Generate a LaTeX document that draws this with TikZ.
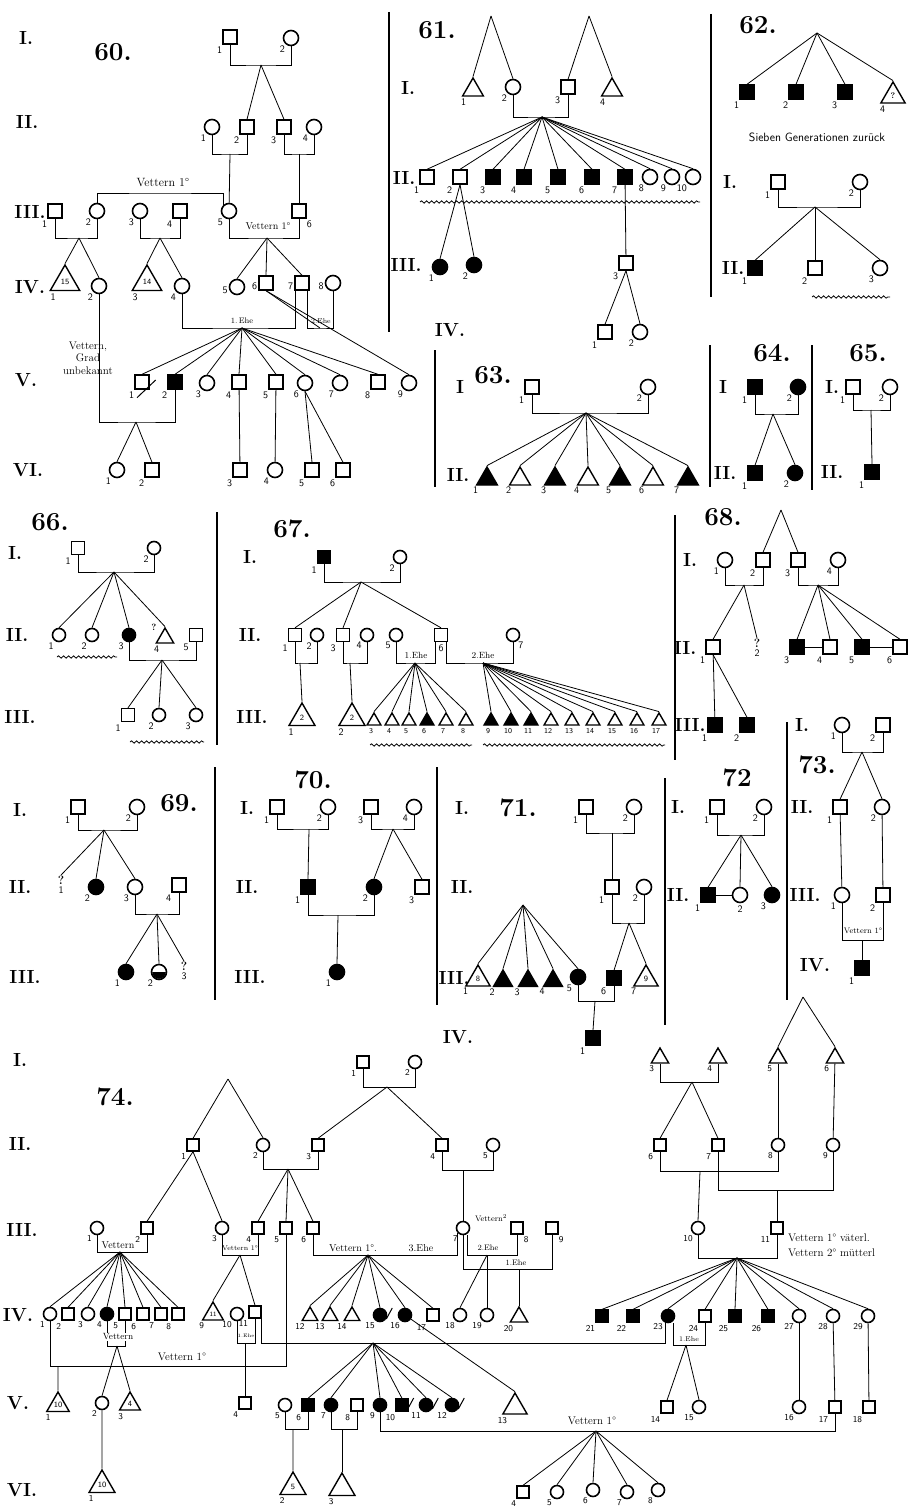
\documentclass[tikz,border=0pt]{standalone}
\usetikzlibrary{shapes.geometric,decorations.pathmorphing}
\begin{document}
\begin{tikzpicture}[x=1pt,y=-1pt,
 sym/.style={draw,inner sep=0pt,line width=1.4pt},
 sq/.style={sym,rectangle,minimum size=14pt},
 sqf/.style={sq,fill=black},
 ci/.style={sym,circle,minimum size=15pt,line width=1.6pt},
 cif/.style={ci,fill=black},
 tri/.style={sym,regular polygon,regular polygon sides=3,minimum size=#1,font=\sffamily\fontsize{6.5}{6.5}\selectfont},
 tri/.default=22pt,
 trif/.style={tri=#1,fill=black},
 trif/.default=22pt,
 big/.style={font=\sffamily\fontsize{8}{8}\selectfont},
 qm/.style={font=\bfseries\fontsize{12}{12}\selectfont,inner sep=0.5pt},
 lab/.style={font=\sffamily\fontsize{10}{10}\selectfont,inner sep=0pt},
 labs/.style={font=\sffamily\fontsize{7.5}{7.5}\selectfont,inner sep=0pt},
 nl/.style={label={[lab,anchor=north east,yshift=-2pt]south west:#1}},
 nlr/.style={label={[lab,anchor=north west,yshift=-2pt]south east:#1}},
 nlb/.style={label={[lab,anchor=north,yshift=-2pt]south:#1}},
 nll/.style={label={[lab,anchor=east,xshift=-1pt,yshift=-3pt]west:#1}},
 nt/.style={label={[lab,anchor=north east,xshift=-2pt,yshift=-1pt]south west:#1}},
 ns/.style={label={[labs,anchor=north,xshift=-3pt,yshift=-3pt]south:#1}},
 gen/.style={font=\bfseries\fontsize{19}{19}\selectfont,inner sep=0pt},
 fign/.style={font=\bfseries\fontsize{26}{26}\selectfont,inner sep=0pt},
 txt/.style={font=\fontsize{11}{12.5}\selectfont,inner sep=0pt},
 stxt/.style={font=\fontsize{8}{8}\selectfont,inner sep=0pt},
 ln/.style={line width=0.8pt},
 sepl/.style={line width=1.5pt},
 wav/.style={line width=0.8pt,decorate,decoration={snake,amplitude=1.2pt,segment length=5pt}},
 sl/.style={line width=1pt},
]
\path[use as bounding box] (0,0) rectangle (915,1511);
\fill[white] (0,0) rectangle (915,1511);

% ---------------- separators
\coordinate (s1a) at (389,12);  \coordinate (s1b) at (389,332);
\coordinate (s2a) at (711,14);  \coordinate (s2b) at (711,297);
\coordinate (s3a) at (435,350); \coordinate (s3b) at (435,487);
\coordinate (s4a) at (710,345); \coordinate (s4b) at (710,487);
\coordinate (s5a) at (812,345); \coordinate (s5b) at (812,490);
\coordinate (s6a) at (217,512); \coordinate (s6b) at (217,745);
\coordinate (s7a) at (675,515); \coordinate (s7b) at (675,760);
\coordinate (s8a) at (215,767); \coordinate (s8b) at (215,1000);
\coordinate (s9a) at (437,767); \coordinate (s9b) at (437,1005);
\coordinate (s10a) at (665,778); \coordinate (s10b) at (665,1025);
\coordinate (s11a) at (787,722); \coordinate (s11b) at (787,1000);
\foreach \s in {1,...,11}{\draw[sepl] (s\s a) -- (s\s b);}

% ================= 60
\node[gen] (g60a) at (26,38) {I.};
\node[gen] (g60b) at (27,122) {II.};
\node[gen] (g60c) at (30,212) {III.};
\node[gen] (g60d) at (30,287) {IV.};
\node[gen] (g60e) at (26,380) {V.};
\node[gen] (g60f) at (28,470) {VI.};
\node[fign] (n60) at (113,52) {60.};
\node[sq,nl=1] (f60a1) at (230,37) {};
\node[ci,nl=2] (f60a2) at (291,38) {};
\node[ci,nl=1] (f60b1) at (212,127) {};
\node[sq,nl=2] (f60b2) at (247,127) {};
\node[sq,nl=3] (f60b3) at (284,127) {};
\node[ci,nl=4] (f60b4) at (314,127) {};
\node[sq,nl=1] (f60c1) at (55,211) {};
\node[ci,nl=2] (f60c2) at (97,211) {};
\node[ci,nl=3] (f60c3) at (140,211) {};
\node[sq,nl=4] (f60c4) at (180,211) {};
\node[ci,nl=5] (f60c5) at (229,211) {};
\node[sq,nlr=6] (f60c6) at (299,211) {};
\node[tri=34pt,nl=1,big] (f60d1) at (65,282) {15};
\node[ci,nl=2] (f60d2) at (99,286) {};
\node[tri=34pt,nl=3,big] (f60d3) at (147,282) {14};
\node[ci,nl=4] (f60d4) at (182,286) {};
\node[ci,nll=5] (f60d5) at (237,287) {};
\node[sq,nll=6] (f60d6) at (266,283) {};
\node[sq,nll=7] (f60d7) at (302,283) {};
\node[ci,nll=8] (f60d8) at (333,283) {};
\node[sq,nl=1] (f60e1) at (142,382) {};
\node[sqf,nl=2] (f60e2) at (175,382) {};
\node[ci,nl=3] (f60e3) at (207,383) {};
\node[sq,nl=4] (f60e4) at (239,382) {};
\node[sq,nl=5] (f60e5) at (276,382) {};
\node[ci,nl=6] (f60e6) at (305,383) {};
\node[ci,nl=7] (f60e7) at (340,383) {};
\node[sq,nl=8] (f60e8) at (378,382) {};
\node[ci,nl=9] (f60e9) at (409,383) {};
\node[ci,nl=1] (f60f1) at (117,470) {};
\node[sq,nl=2] (f60f2) at (152,470) {};
\node[sq,nl=3] (f60f3) at (240,470) {};
\node[ci,nl=4] (f60f4) at (275,470) {};
\node[sq,nl=5] (f60f5) at (312,470) {};
\node[sq,nl=6] (f60f6) at (343,470) {};
\node[txt,font=\fontsize{12}{12}\selectfont] (t60a) at (163,183) {Vettern 1°};
\node[stxt,font=\fontsize{10}{10}\selectfont] (t60b) at (268,226) {Vettern 1°};
\node[stxt] (t60c) at (242,321) {1.\,Ehe};
\node[stxt,font=\fontsize{7}{7}\selectfont] (t60d) at (321,321) {2.Ehe};
\node[txt,align=center] (t60e) at (88,358) {Vettern,\\Grad\\unbekannt};
\coordinate (j60a) at (261,65);
\draw[ln] (f60a1) |- (j60a) -| (f60a2);
\draw[ln] (j60a) -- (f60b2.north); \draw[ln] (j60a) -- (f60b3.north);
\coordinate (j60b) at (230,154);
\draw[ln] (f60b1) |- (j60b) -| (f60b2); \draw[ln] (j60b) -- (f60c5);
\coordinate (j60c) at (299,154);
\draw[ln] (f60b3) |- (j60c) -| (f60b4); \draw[ln] (j60c) -- (f60c6);
\coordinate (v60) at (160,193);
\draw[ln] (f60c2) |- (v60) -| (f60c5.north west);
\coordinate (j60d) at (79,238);
\draw[ln] (f60c1) |- (j60d) -| (f60c2); \draw[ln] (j60d) -- (f60d1.north); \draw[ln] (j60d) -- (f60d2.north);
\coordinate (j60e) at (160,238);
\draw[ln] (f60c3) |- (j60e) -| (f60c4); \draw[ln] (j60e) -- (f60d3.north); \draw[ln] (j60e) -- (f60d4.north);
\coordinate (j60f) at (267,238);
\draw[ln] (f60c5) |- (j60f) -| (f60c6); \draw[ln] (j60f) -- (f60d5.north); \draw[ln] (j60f) -- (f60d6.north); \draw[ln] (j60f) -- (f60d7.north);
\coordinate (e60a) at (242,328);
\draw[ln] (f60d4) |- (e60a) -| ([xshift=1pt]f60d7.south west);
\coordinate (e60b) at (320,328);
\draw[ln] ([xshift=-2pt]f60d7.south east) |- (e60b) -| (f60d8);
\foreach \i in {1,...,8}{\draw[ln] (e60a) -- (f60e\i.north);}
\draw[ln] (f60d6.south) -- (f60e9.north);
\draw[ln] (f60d6.south) -- (e60b);
\coordinate (j60g) at (136,422);
\draw[ln] (f60d2) |- (j60g) -| (f60e2); \draw[ln] (j60g) -- (f60f1.north); \draw[ln] (j60g) -- (f60f2.north);
\draw[ln] (f60e4) -- (f60f3); \draw[ln] (f60e5) -- (f60f4);
\draw[ln] (f60e6.south) -- (f60f5.north); \draw[ln] (f60e6.south) -- (f60f6.north);
\draw[sl] ([shift={(-5,8)}]f60e1.south) -- ([shift={(6,-2)}]f60e1.east);

% ================= 61
\node[gen] (g61a) at (408,88) {I.};
\node[gen] (g61b) at (404,178) {II.};
\node[gen] (g61c) at (406,265) {III.};
\node[gen] (g61d) at (450,330) {IV.};
\node[fign] (n61) at (437,30) {61.};
\node[tri=24pt,nl=1] (f61a1) at (473,90) {};
\node[ci,nl=2] (f61a2) at (513,87) {};
\node[sq,nl=3] (f61a3) at (568,87) {};
\node[tri=24pt,nl=4] (f61a4) at (612,90) {};
\node[sq,nl=1] (f61b1) at (427,177) {};
\node[sq,nl=2] (f61b2) at (460,177) {};
\node[sqf,nl=3] (f61b3) at (493,177) {};
\node[sqf,nl=4] (f61b4) at (524,177) {};
\node[sqf,nl=5] (f61b5) at (558,177) {};
\node[sqf,nl=6] (f61b6) at (592,177) {};
\node[sqf,nl=7] (f61b7) at (625,177) {};
\node[ci,nl=8] (f61b8) at (650,177) {};
\node[ci,nl=9] (f61b9) at (672,177) {};
\node[ci,nl=10] (f61b10) at (693,177) {};
\node[cif,nl=1] (f61c1) at (440,267) {};
\node[cif,nl=2] (f61c2) at (474,265) {};
\node[sq,nl=3] (f61c3) at (626,263) {};
\node[sq,nl=1] (f61d1) at (605,332) {};
\node[ci,nl=2] (f61d2) at (640,332) {};
\coordinate (p61a) at (491,16); \coordinate (p61b) at (589,16);
\draw[ln] (p61a) -- (f61a1.north); \draw[ln] (p61a) -- (f61a2.north);
\draw[ln] (p61b) -- (f61a3.north); \draw[ln] (p61b) -- (f61a4.north);
\coordinate (j61a) at (542,117);
\draw[ln] (f61a2) |- (j61a) -| (f61a3);
\foreach \i in {1,...,10}{\draw[ln] (j61a) -- (f61b\i.north);}
\coordinate (w61a) at (420,202); \coordinate (w61b) at (700,202);
\draw[wav] (w61a) -- (w61b);
\draw[ln] (f61b2.south) -- (f61c1.north); \draw[ln] (f61b2.south) -- (f61c2.north);
\draw[ln] (f61b7) -- (f61c3);
\draw[ln] (f61c3.south) -- (f61d1.north); \draw[ln] (f61c3.south) -- (f61d2.north);

% ================= 62
\node[fign] (n62) at (758,25) {62.};
\node[sqf,nl=1] (f62x1) at (747,92) {};
\node[sqf,nl=2] (f62x2) at (796,92) {};
\node[sqf,nl=3] (f62x3) at (845,92) {};
\node[tri=28pt,nl=4,font=\bfseries\fontsize{8}{8}\selectfont] (f62x4) at (893,96) {?};
\node[stxt,font=\sffamily\fontsize{12}{12}\selectfont] (t62) at (817,137) {Sieben Generationen zurück};
\node[gen] (g62a) at (730,182) {I.};
\node[gen] (g62b) at (733,268) {II.};
\node[sq,nl=1] (f62a1) at (778,182) {};
\node[ci,nl=2] (f62a2) at (860,182) {};
\node[sqf,nl=1] (f62b1) at (755,268) {};
\node[sq,nl=2] (f62b2) at (815,268) {};
\node[ci,nl=3] (f62b3) at (880,268) {};
\coordinate (p62) at (817,33);
\foreach \i in {1,...,4}{\draw[ln] (p62) -- (f62x\i.north);}
\coordinate (j62) at (815,207);
\draw[ln] (f62a1) |- (j62) -| (f62a2);
\foreach \i in {1,2,3}{\draw[ln] (j62) -- (f62b\i.north);}
\coordinate (w62a) at (812,297); \coordinate (w62b) at (890,297);
\draw[wav] (w62a) -- (w62b);

% ================= 63
\node[fign] (n63) at (493,375) {63.};
\node[gen] (g63a) at (460,387) {I};
\node[gen] (g63b) at (458,475) {II.};
\node[sq,nl=1] (f63a1) at (532,387) {};
\node[ci,nl=2] (f63a2) at (648,387) {};
\node[trif=24pt,nt=1] (f63b1) at (487,479) {};
\node[tri=24pt,nt=2] (f63b2) at (520,479) {};
\node[trif=24pt,nt=3] (f63b3) at (555,479) {};
\node[tri=24pt,nt=4] (f63b4) at (588,479) {};
\node[trif=24pt,nt=5] (f63b5) at (620,479) {};
\node[tri=24pt,nt=6] (f63b6) at (653,479) {};
\node[trif=24pt,nt=7] (f63b7) at (688,479) {};
\coordinate (j63) at (586,413);
\draw[ln] (f63a1) |- (j63) -| (f63a2);
\foreach \i in {1,...,7}{\draw[ln] (j63) -- (f63b\i.north);}

% ================= 64
\node[fign] (n64) at (772,353) {64.};
\node[gen] (g64a) at (723,387) {I};
\node[gen] (g64b) at (725,473) {II.};
\node[sqf,nl=1] (f64a1) at (755,387) {};
\node[cif,nl=2] (f64a2) at (798,387) {};
\node[sqf,nl=1] (f64b1) at (755,473) {};
\node[cif,nl=2] (f64b2) at (795,473) {};
\coordinate (j64) at (773,414);
\draw[ln] (f64a1) |- (j64) -| (f64a2);
\draw[ln] (j64) -- (f64b1.north); \draw[ln] (j64) -- (f64b2.north);

% ================= 65
\node[fign] (n65) at (868,353) {65.};
\node[gen] (g65a) at (832,387) {I.};
\node[gen] (g65b) at (832,472) {II.};
\node[sq,nl=1] (f65a1) at (853,387) {};
\node[ci,nl=2] (f65a2) at (890,387) {};
\node[sqf,nl=1] (f65b1) at (872,472) {};
\coordinate (j65) at (871,410);
\draw[ln] (f65a1) |- (j65) -| (f65a2);
\draw[ln] (j65) -- (f65b1.north);

% ================= 66 & 67
\begin{scope}[sq/.append style={minimum size=13pt}, ci/.append style={minimum size=13pt}]
\node[fign] (n66) at (50,522) {66.};
\node[gen] (g66a) at (15,553) {I.};
\node[gen] (g66b) at (17,635) {II.};
\node[gen] (g66c) at (20,717) {III.};
\node[sq,nl=1] (f66a1) at (78,548) {};
\node[ci,nl=2] (f66a2) at (154,548) {};
\node[ci,nl=1] (f66b1) at (59,635) {};
\node[ci,nl=2] (f66b2) at (92,635) {};
\node[cif,nl=3] (f66b3) at (129,635) {};
\node[tri=20pt,nl=4] (f66b4) at (165,638) {};
\node[sq,nl=5] (f66b5) at (196,635) {};
\node[qm,font=\bfseries\fontsize{9}{9}\selectfont] (t66q) at (154,627) {?};
\node[sq,nl=1] (f66c1) at (128,715) {};
\node[ci,nl=2] (f66c2) at (159,715) {};
\node[ci,nl=3] (f66c3) at (196,715) {};
\coordinate (j66a) at (114,572);
\draw[ln] (f66a1) |- (j66a) -| (f66a2);
\foreach \i in {1,...,4}{\draw[ln] (j66a) -- (f66b\i.north);}
\coordinate (j66b) at (162,660);
\draw[ln] (f66b3) |- (j66b) -| (f66b5);
\foreach \i in {1,2,3}{\draw[ln] (j66b) -- (f66c\i.north);}
\coordinate (w66a) at (57,657); \coordinate (w66b) at (117,657);
\coordinate (w66c) at (130,742); \coordinate (w66d) at (204,742);
\draw[wav] (w66a) -- (w66b); \draw[wav] (w66c) -- (w66d);

\node[fign] (n67) at (292,529) {67.};
\node[gen] (g67a) at (250,557) {I.};
\node[gen] (g67b) at (250,635) {II.};
\node[gen] (g67c) at (252,717) {III.};
\node[sqf,nl=1] (f67a1) at (324,557) {};
\node[ci,nl=2] (f67a2) at (400,557) {};
\node[sq,nl=1] (f67b1) at (295,635) {};
\node[ci,nl=2] (f67b2) at (317,635) {};
\node[sq,nl=3] (f67b3) at (343,635) {};
\node[ci,nl=4] (f67b4) at (367,635) {};
\node[ci,nl=5] (f67b5) at (396,635) {};
\node[sq,nlb=6] (f67b6) at (441,635) {};
\node[ci,nlr=7] (f67b7) at (513,635) {};
\node[tri=30pt,nl=1,big] (f67c1) at (302,718) {2};
\node[tri=30pt,nl=2,big] (f67c2) at (352,718) {2};
\node[tri=16pt,ns=3] (f67c3) at (374,721) {};
\node[tri=16pt,ns=4] (f67c4) at (392,721) {};
\node[tri=16pt,ns=5] (f67c5) at (409,721) {};
\node[trif=16pt,ns=6] (f67c6) at (427,721) {};
\node[tri=16pt,ns=7] (f67c7) at (446,721) {};
\node[tri=16pt,ns=8] (f67c8) at (466,721) {};
\node[trif=16pt,ns=9] (f67c9) at (491,721) {};
\node[trif=16pt,ns=10] (f67c10) at (511,721) {};
\node[trif=16pt,ns=11] (f67c11) at (531,721) {};
\node[tri=16pt,ns=12] (f67c12) at (551,721) {};
\node[tri=16pt,ns=13] (f67c13) at (572,721) {};
\node[tri=16pt,ns=14] (f67c14) at (593,721) {};
\node[tri=16pt,ns=15] (f67c15) at (615,721) {};
\node[tri=16pt,ns=16] (f67c16) at (637,721) {};
\node[tri=16pt,ns=17] (f67c17) at (659,721) {};
\node[stxt,font=\fontsize{9}{9}\selectfont] (t67a) at (416,655) {1.Ehe};
\node[stxt,font=\fontsize{9}{9}\selectfont] (t67b) at (483,655) {2.Ehe};
\coordinate (j67a) at (361,582);
\draw[ln] (f67a1) |- (j67a) -| (f67a2);
\draw[ln] (j67a) -- (f67b1.north); \draw[ln] (j67a) -- (f67b3.north); \draw[ln] (j67a) -- (f67b6.north);
\coordinate (j67b) at (300,663);
\draw[ln] (f67b1) |- (j67b) -| (f67b2); \draw[ln] (j67b) -- (f67c1.north);
\coordinate (j67c) at (350,663);
\draw[ln] (f67b3) |- (j67c) -| (f67b4); \draw[ln] (j67c) -- (f67c2.north);
\coordinate (j67d) at (415,663);
\draw[ln] (f67b5) |- (j67d) -| ([xshift=1.5pt]f67b6.south west);
\foreach \i in {3,...,8}{\draw[ln] (j67d) -- (f67c\i.north);}
\coordinate (j67e) at (483,663);
\draw[ln] ([xshift=-1.5pt]f67b6.south east) |- (j67e) -| (f67b7);
\foreach \i in {9,...,17}{\draw[ln] (j67e) -- (f67c\i.north);}
\coordinate (w67a) at (370,745); \coordinate (w67b) at (472,745);
\coordinate (w67c) at (483,745); \coordinate (w67d) at (665,745);
\draw[wav] (w67a) -- (w67b); \draw[wav] (w67c) -- (w67d);
\end{scope}

% ================= 68
\node[fign] (n68) at (723,517) {68.};
\node[gen] (g68a) at (690,560) {I.};
\node[gen] (g68b) at (685,648) {II.};
\node[gen] (g68c) at (690,725) {III.};
\node[ci,nl=1] (f68a1) at (725,560) {};
\node[sq,nl=2] (f68a2) at (763,560) {};
\node[sq,nl=3] (f68a3) at (798,560) {};
\node[ci,nl=4] (f68a4) at (838,560) {};
\node[sq,nl=1] (f68b1) at (713,647) {};
\node[qm,nlb=2] (f68b2) at (757,643) {?};
\node[sqf,nl=3] (f68b3) at (797,647) {};
\node[sq,nl=4] (f68b4) at (830,647) {};
\node[sqf,nl=5] (f68b5) at (862,647) {};
\node[sq,nl=6] (f68b6) at (900,647) {};
\node[sqf,nl=1] (f68c1) at (715,725) {};
\node[sqf,nl=2] (f68c2) at (747,725) {};
\coordinate (p68) at (781,510);
\draw[ln] (p68) -- (f68a2.north); \draw[ln] (p68) -- (f68a3.north);
\coordinate (j68a) at (744,585);
\draw[ln] (f68a1) |- (j68a) -| (f68a2);
\draw[ln] (j68a) -- (f68b1.north); \draw[ln] (j68a) -- (f68b2.north);
\coordinate (j68b) at (818,585);
\draw[ln] (f68a3) |- (j68b) -| (f68a4);
\foreach \i in {3,...,6}{\draw[ln] (j68b) -- (f68b\i.north);}
\draw[ln] (f68b3) -- (f68b4); \draw[ln] (f68b5) -- (f68b6);
\draw[ln] (f68b1) -- (f68c1); \draw[ln] (f68b1.south) -- (f68c2.north);

% ================= 69
\node[fign] (n69) at (179,803) {69.};
\node[gen] (g69a) at (20,810) {I.};
\node[gen] (g69b) at (20,887) {II.};
\node[gen] (g69c) at (25,977) {III.};
\node[sq,nl=1] (f69a1) at (78,807) {};
\node[ci,nl=2] (f69a2) at (137,807) {};
\node[qm,nlb=1] (f69b1) at (61,880) {?};
\node[cif,nl=2] (f69b2) at (96,887) {};
\node[ci,nl=3] (f69b3) at (135,887) {};
\node[sq,nl=4] (f69b4) at (179,885) {};
\node[cif,nl=1] (f69c1) at (126,972) {};
\node[ci,nl=2] (f69c2) at (159,972) {};
\node[qm,nlb=3] (f69c3) at (184,966) {?};
\fill ([xshift=-6.8pt]f69c2.center) arc[start angle=180,end angle=0,radius=6.8] -- cycle;
\coordinate (j69a) at (104,830);
\draw[ln] (f69a1) |- (j69a) -| (f69a2);
\foreach \i in {1,2,3}{\draw[ln] (j69a) -- (f69b\i.north);}
\coordinate (j69b) at (157,914);
\draw[ln] (f69b3) |- (j69b) -| (f69b4);
\foreach \i in {1,2,3}{\draw[ln] (j69b) -- (f69c\i.north);}

% ================= 70
\node[fign] (n70) at (313,780) {70.};
\node[gen] (g70a) at (247,808) {I.};
\node[gen] (g70b) at (247,887) {II.};
\node[gen] (g70c) at (250,977) {III.};
\node[sq,nl=1] (f70a1) at (277,807) {};
\node[ci,nl=2] (f70a2) at (328,807) {};
\node[sq,nl=3] (f70a3) at (371,807) {};
\node[ci,nl=4] (f70a4) at (414,807) {};
\node[sqf,nl=1] (f70b1) at (308,887) {};
\node[cif,nl=2] (f70b2) at (374,887) {};
\node[sq,nl=3] (f70b3) at (422,887) {};
\node[cif,nl=1] (f70c1) at (337,972) {};
\coordinate (j70a) at (309,829);
\draw[ln] (f70a1) |- (j70a) -| (f70a2); \draw[ln] (j70a) -- (f70b1.north);
\coordinate (j70b) at (393,829);
\draw[ln] (f70a3) |- (j70b) -| (f70a4); \draw[ln] (j70b) -- (f70b2.north); \draw[ln] (j70b) -- (f70b3.north);
\coordinate (j70c) at (338,915);
\draw[ln] (f70b1) |- (j70c) -| (f70b2); \draw[ln] (j70c) -- (f70c1.north);

% ================= 71
\node[fign] (n71) at (518,808) {71.};
\node[gen] (g71a) at (462,808) {I.};
\node[gen] (g71b) at (462,887) {II.};
\node[gen] (g71c) at (454,978) {III.};
\node[gen] (g71d) at (458,1037) {IV.};
\node[sq,nl=1] (f71a1) at (586,807) {};
\node[ci,nl=2] (f71a2) at (634,807) {};
\node[sq,nl=1] (f71b1) at (612,887) {};
\node[ci,nl=2] (f71b2) at (644,887) {};
\node[tri=28pt,nt=1,big] (f71c1) at (478,979) {8};
\node[trif=22pt,nt=2] (f71c2) at (503,981) {};
\node[trif=22pt,nt=3] (f71c3) at (528,981) {};
\node[trif=22pt,nt=4] (f71c4) at (553,981) {};
\node[cif,nl=5] (f71c5) at (578,977) {};
\node[sqf,nl=6] (f71c6) at (614,978) {};
\node[tri=28pt,nt=7,big] (f71c7) at (646,979) {9};
\node[sqf,nl=1] (f71d1) at (593,1038) {};
\coordinate (j71a) at (612,833);
\draw[ln] (f71a1) |- (j71a) -| (f71a2); \draw[ln] (j71a) -- (f71b1);
\coordinate (j71b) at (629,923);
\draw[ln] (f71b1) |- (j71b) -| (f71b2); \draw[ln] (j71b) -- (f71c6.north); \draw[ln] (j71b) -- (f71c7.north);
\coordinate (p71) at (523,905);
\foreach \i in {1,...,5}{\draw[ln] (p71) -- (f71c\i.north);}
\coordinate (j71c) at (595,1001);
\draw[ln] (f71c5) |- (j71c) -| (f71c6); \draw[ln] (j71c) -- (f71d1.north);

% ================= 72
\node[fign] (n72) at (737,778) {72};
\node[gen] (g72a) at (678,807) {I.};
\node[gen] (g72b) at (678,895) {II.};
\node[sq,nl=1] (f72a1) at (717,807) {};
\node[ci,nl=2] (f72a2) at (764,807) {};
\node[sqf,nl=1] (f72b1) at (708,895) {};
\node[ci,nlb=2] (f72b2) at (740,895) {};
\node[cif,nl=3] (f72b3) at (772,895) {};
\coordinate (j72) at (741,835);
\draw[ln] (f72a1) |- (j72) -| (f72a2);
\foreach \i in {1,2,3}{\draw[ln] (j72) -- (f72b\i.north);}
\draw[ln] (f72b1) -- (f72b2);

% ================= 73
\node[fign] (n73) at (817,765) {73.};
\node[gen] (g73a) at (802,725) {I.};
\node[gen] (g73b) at (802,807) {II.};
\node[gen] (g73c) at (805,895) {III.};
\node[gen] (g73d) at (815,965) {IV.};
\node[ci,nl=1] (f73a1) at (842,725) {};
\node[sq,nl=2] (f73a2) at (883,725) {};
\node[sq,nl=1] (f73b1) at (840,807) {};
\node[ci,nl=2] (f73b2) at (882,807) {};
\node[ci,nl=1] (f73c1) at (842,895) {};
\node[sq,nl=2] (f73c2) at (883,895) {};
\node[sqf,nl=1] (f73d1) at (862,968) {};
\node[stxt] (t73) at (863,931) {Vettern 1°};
\coordinate (j73a) at (862,752);
\draw[ln] (f73a1) |- (j73a) -| (f73a2); \draw[ln] (j73a) -- (f73b1.north); \draw[ln] (j73a) -- (f73b2.north);
\draw[ln] (f73b1) -- (f73c1); \draw[ln] (f73b2) -- (f73c2);
\coordinate (j73b) at (862,940);
\draw[ln] (f73c1) |- (j73b) -| (f73c2); \draw[ln] (j73b) -- (f73d1.north);

% ================= 74
\begin{scope}[sq/.append style={minimum size=12pt}, ci/.append style={minimum size=13pt}, lab/.append style={font=\sffamily\fontsize{9}{9}\selectfont}]
\node[gen] (g74a) at (20,1060) {I.};
\node[gen] (g74b) at (20,1144) {II.};
\node[gen] (g74c) at (22,1230) {III.};
\node[gen] (g74d) at (18,1315) {IV.};
\node[gen] (g74e) at (18,1403) {V.};
\node[gen] (g74f) at (22,1490) {VI.};
\node[fign] (n74) at (115,1097) {74.};
\node[sq,nl=1] (f74a1) at (363,1062) {};
\node[ci,nl=2] (f74a2) at (415,1062) {};
\node[tri=20pt,nl=3] (f74a3) at (660,1058) {};
\node[tri=20pt,nl=4] (f74a4) at (718,1058) {};
\node[tri=20pt,nl=5] (f74a5) at (778,1058) {};
\node[tri=20pt,nl=6] (f74a6) at (835,1058) {};
\node[sq,nl=1] (f74b1) at (193,1145) {};
\node[ci,nl=2] (f74b2) at (263,1145) {};
\node[sq,nl=3] (f74b3) at (318,1145) {};
\node[sq,nl=4] (f74b4) at (442,1145) {};
\node[ci,nl=5] (f74b5) at (493,1145) {};
\node[sq,nl=6] (f74b6) at (660,1145) {};
\node[sq,nl=7] (f74b7) at (718,1145) {};
\node[ci,nl=8] (f74b8) at (778,1145) {};
\node[ci,nl=9] (f74b9) at (833,1145) {};
\node[ci,nl=1] (f74c1) at (97,1228) {};
\node[sq,nl=2] (f74c2) at (147,1228) {};
\node[ci,nl=3] (f74c3) at (222,1228) {};
\node[sq,nl=4] (f74c4) at (258,1228) {};
\node[sq,nl=5] (f74c5) at (286,1228) {};
\node[sq,nl=6] (f74c6) at (313,1228) {};
\node[ci,nl=7] (f74c7) at (463,1228) {};
\node[sq,nlr=8] (f74c8) at (517,1228) {};
\node[sq,nlr=9] (f74c9) at (552,1228) {};
\node[ci,nl=10] (f74c10) at (698,1228) {};
\node[sq,nl=11] (f74c11) at (777,1228) {};
\node[ci,nl=1] (f74d1) at (50,1314) {};
\node[sq,nl=2] (f74d2) at (68,1314) {};
\node[ci,nl=3] (f74d3) at (88,1314) {};
\node[cif,nl=4] (f74d4) at (107,1314) {};
\node[sq,nl=5] (f74d5) at (125,1314) {};
\node[sq,nl=6] (f74d6) at (143,1314) {};
\node[sq,nl=7] (f74d7) at (161,1314) {};
\node[sq,nl=8] (f74d8) at (178,1314) {};
\node[tri=24pt,nt=9] (f74d9) at (213,1314) {11};
\node[ci,nl=10] (f74d10) at (237,1314) {};
\node[sq,nl=11] (f74d11) at (255,1312) {};
\node[tri=18pt,nl=12] (f74d12) at (310,1316) {};
\node[tri=18pt,nl=13] (f74d13) at (330,1316) {};
\node[tri=18pt,nl=14] (f74d14) at (352,1316) {};
\node[cif,nl=15] (f74d15) at (380,1315) {};
\node[cif,nl=16] (f74d16) at (405,1315) {};
\node[sq,nl=17] (f74d17) at (433,1315) {};
\node[ci,nl=18] (f74d18) at (460,1315) {};
\node[ci,nl=19] (f74d19) at (487,1315) {};
\node[tri=20pt,nl=20] (f74d20) at (519,1317) {};
\node[sqf,nl=21] (f74d21) at (602,1316) {};
\node[sqf,nl=22] (f74d22) at (633,1316) {};
\node[cif,nl=23] (f74d23) at (668,1316) {};
\node[sq,nl=24] (f74d24) at (705,1316) {};
\node[sqf,nl=25] (f74d25) at (735,1316) {};
\node[sqf,nl=26] (f74d26) at (768,1316) {};
\node[ci,nl=27] (f74d27) at (799,1316) {};
\node[ci,nl=28] (f74d28) at (833,1316) {};
\node[ci,nl=29] (f74d29) at (868,1316) {};
\node[tri=26pt,nl=1,big] (f74e1) at (58,1405) {10};
\node[ci,nl=2] (f74e2) at (102,1403) {};
\node[tri=24pt,nl=3,big] (f74e3) at (130,1404) {4};
\node[sq,nl=4] (f74e4) at (245,1403) {};
\node[ci,nl=5] (f74e5) at (285,1405) {};
\node[sqf,nl=6] (f74e6) at (308,1405) {};
\node[cif,nl=7] (f74e7) at (331,1405) {};
\node[sq,nl=8] (f74e8) at (357,1405) {};
\node[cif,nl=9] (f74e9) at (380,1405) {};
\node[sqf,nl=10] (f74e10) at (402,1405) {};
\node[cif,nl=11] (f74e11) at (426,1405) {};
\node[cif,nl=12] (f74e12) at (452,1405) {};
\node[tri=28pt,nl=13] (f74e13) at (515,1407) {};
\node[sq,nl=14] (f74e14) at (667,1407) {};
\node[ci,nl=15] (f74e15) at (699,1407) {};
\node[ci,nl=16] (f74e16) at (799,1407) {};
\node[sq,nl=17] (f74e17) at (835,1407) {};
\node[sq,nl=18] (f74e18) at (869,1407) {};
\node[tri=30pt,nl=1,big] (f74f1) at (102,1485) {10};
\node[tri=30pt,nl=2,big] (f74f2) at (293,1487) {5};
\node[tri=30pt,nl=3] (f74f3) at (342,1488) {};
\node[sq,nl=4] (f74f4) at (523,1492) {};
\node[ci,nl=5] (f74f5) at (557,1492) {};
\node[ci,nl=6] (f74f6) at (593,1490) {};
\node[ci,nl=7] (f74f7) at (627,1492) {};
\node[ci,nl=8] (f74f8) at (658,1490) {};
% connectors 74
\coordinate (p74) at (228,1079);
\draw[ln] (p74) -- (f74b1.north); \draw[ln] (p74) -- (f74b2.north);
\coordinate (j74a) at (387,1087);
\draw[ln] (f74a1) |- (j74a) -| (f74a2); \draw[ln] (j74a) -- (f74b3.north); \draw[ln] (j74a) -- (f74b4.north);
\coordinate (p74r) at (803,997);
\draw[ln] (p74r) -- (f74a5.north); \draw[ln] (p74r) -- (f74a6.north);
\coordinate (j74b) at (692,1082);
\draw[ln] (f74a3) |- (j74b) -| (f74a4); \draw[ln] (j74b) -- (f74b6.north); \draw[ln] (j74b) -- (f74b7.north);
\draw[ln] (f74a5) -- (f74b8); \draw[ln] (f74a6) -- (f74b9);
\draw[ln] (f74b1.south) -- (f74c2.north); \draw[ln] (f74b1.south) -- (f74c3.north);
\coordinate (j74c) at (288,1169);
\draw[ln] (f74b2) |- (j74c) -| (f74b3);
\foreach \i in {4,5,6}{\draw[ln] (j74c) -- (f74c\i.north);}
\coordinate (j74d) at (463,1170);
\draw[ln] (f74b4) |- (j74d) -| (f74b5); \draw[ln] (j74d) -- (f74c7.north);
\coordinate (j74e) at (700,1171);
\draw[ln] (f74b6) |- (j74e) -| (f74b8); \draw[ln] (j74e) -- (f74c10.north);
\coordinate (j74f) at (777,1190);
\draw[ln] (f74b7) |- (j74f) -| (f74b9); \draw[ln] (j74f) -- (f74c11.north);
\coordinate (j74g) at (120,1252);
\draw[ln] (f74c1) |- (j74g) -| (f74c2);
\foreach \i in {1,...,8}{\draw[ln] (j74g) -- (f74d\i.north);}
\coordinate (j74h) at (240,1255);
\draw[ln] (f74c3) |- (j74h) -| (f74c4); \draw[ln] (j74h) -- (f74d9.north); \draw[ln] (j74h) -- (f74d11.north);
\coordinate (j74i) at (368,1255);
\draw[ln] (f74c6) |- (j74i) -| (f74c7.south west);
\foreach \i in {12,...,17}{\draw[ln] (j74i) -- (f74d\i.north);}
\coordinate (j74j) at (487,1255);
\draw[ln] ([xshift=4pt]f74c7.south) |- (j74j) -| (f74c8);
\draw[ln] (j74j) -- (f74d18.north); \draw[ln] (j74j) -- (f74d19.north);
\coordinate (j74k) at (519,1269);
\draw[ln] (f74c7.south) |- (j74k) -| (f74c9); \draw[ln] (j74k) -- (f74d20.north);
\coordinate (j74l) at (737,1258);
\draw[ln] (f74c10) |- (j74l) -| (f74c11);
\foreach \i in {21,...,29}{\draw[ln] (j74l) -- (f74d\i.north);}
\coordinate (v74) at (170,1366);
\draw[ln] (f74c5) |- (v74) -| (f74d1);
\coordinate (j74m) at (58,1366);
\draw[ln] (j74m) -- (f74e1.north);
\coordinate (j74n) at (117,1346);
\draw[ln] (f74d4) |- (j74n) -| (f74d5); \draw[ln] (j74n) -- (f74e2.north); \draw[ln] (j74n) -- (f74e3.north);
\coordinate (j74o) at (245,1343);
\draw[ln] (f74d10) |- (j74o) -| (f74d11.south); \draw[ln] (j74o) -- (f74e4.north);
\coordinate (j74p) at (373,1343);
\draw[ln] (f74d11.south east) |- (j74p) -| ([xshift=-3pt]f74d23.south);
\foreach \i in {6,7,9,10,11,12}{\draw[ln] (j74p) -- (f74e\i.north);}
\draw[ln] (f74d16) -- (f74e13.north);
\coordinate (j74q) at (686,1345);
\draw[ln] ([xshift=5pt]f74d23.south) |- (j74q) -| (f74d24);
\draw[ln] (j74q) -- (f74e14.north); \draw[ln] (j74q) -- (f74e15.north);
\draw[ln] (f74d27) -- (f74e16); \draw[ln] (f74d28) -- (f74e17); \draw[ln] (f74d29) -- (f74e18);
\coordinate (j74r) at (293,1429);
\draw[ln] (f74e5) |- (j74r) -| (f74e6); \draw[ln] (j74r) -- (f74f2.north);
\coordinate (j74s) at (342,1429);
\draw[ln] (f74e7) |- (j74s) -| (f74e8); \draw[ln] (j74s) -- (f74f3.north);
\coordinate (j74t) at (596,1431);
\draw[ln] (f74e9) |- (j74t) -| (f74e17);
\foreach \i in {4,...,8}{\draw[ln] (j74t) -- (f74f\i.north);}
\draw[ln] (f74e2) -- (f74f1.north);
\draw[sl] ([shift={(-1,4)}]f74d15.east) -- ++(6,-11);
\draw[sl] ([shift={(-1,4)}]f74e10.east) -- ++(6,-11);
\draw[sl] ([shift={(-1,4)}]f74e11.east) -- ++(6,-11);
\draw[sl] ([shift={(-1,4)}]f74e12.east) -- ++(6,-11);
% texts 74
\node[stxt,font=\fontsize{10}{10}\selectfont] (t74a) at (118,1245) {Vettern};
\node[stxt,font=\fontsize{7}{7}\selectfont] (t74b) at (240,1248) {Vettern 1°};
\node[stxt,font=\fontsize{10}{10}\selectfont] (t74c) at (353,1248) {Vettern 1°.};
\node[stxt,font=\fontsize{10}{10}\selectfont] (t74d) at (421,1248) {3.Ehe};
\node[stxt] (t74e) at (491,1218) {Vettern\textsuperscript{2}};
\node[stxt] (t74f) at (488,1248) {2.Ehe};
\node[stxt] (t74g) at (516,1263) {1.Ehe};
\node[stxt,font=\fontsize{9}{9}\selectfont,fill=white,inner sep=1pt] (t74h) at (118,1337) {Vettern};
\node[stxt,font=\fontsize{5}{5}\selectfont] (t74i) at (246,1336) {1.Ehe};
\node[txt] (t74j) at (182,1357) {Vettern 1°};
\node[stxt,font=\fontsize{7}{7}\selectfont] (t74k) at (689,1339) {1.Ehe};
\node[txt] (t74l) at (592,1421) {Vettern 1°};
\node[txt,anchor=west] (t74m) at (788,1238) {Vettern 1° väterl.};
\node[txt,anchor=west] (t74n) at (788,1253) {Vettern 2° mütterl};
\end{scope}
\end{tikzpicture}
\end{document}
